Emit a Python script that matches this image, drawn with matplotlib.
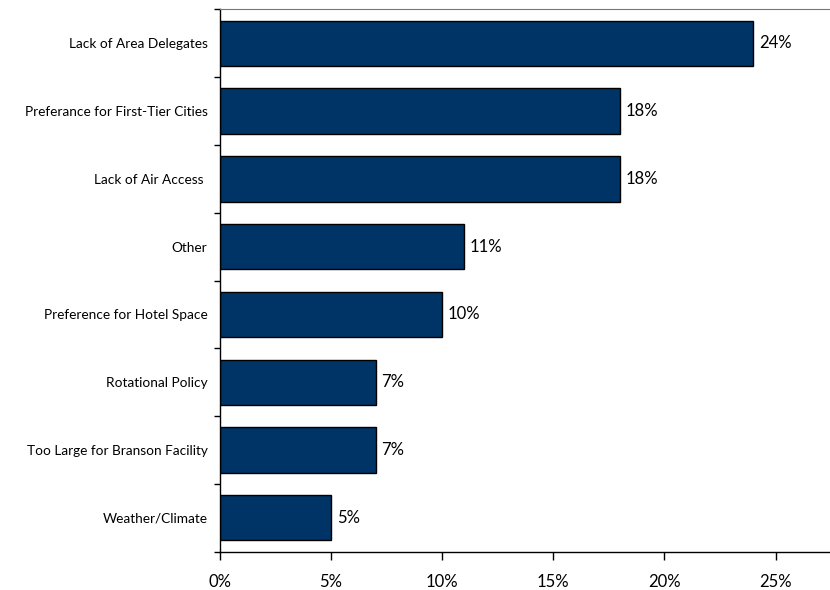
import matplotlib.pyplot as plt
import numpy as np

# Reasons for not choosing Branson, share of responses (%)
reasons = ["Lack of Area Delegates", "Preferance for First-Tier Cities",
           "Lack of Air Access ", "Other", "Preference for Hotel Space",
           "Rotational Policy", "Too Large for Branson Facility",
           "Weather/Climate"]
shares = [24, 18, 18, 11, 10, 7, 7, 5]
x_ticks = [0, 5, 10, 15, 20, 25]

plt.rcParams['font.family'] = ['Lato', 'DejaVu Sans']

fig = plt.figure(figsize=(8.3, 5.9), dpi=100)
ax = fig.add_axes([0.265, 0.065, 0.735, 0.919])

pos = np.arange(len(reasons))
ax.barh(pos, shares, height=0.67, color="#003366", edgecolor="black",
        linewidth=1.0)

for p, v in zip(pos, shares):
    ax.text(v + 0.25, p, str(v) + "%", va="center", ha="left",
            fontsize=12, color="black")

ax.set_ylim(len(reasons) - 0.5, -0.5)
ax.set_xlim(0, 27.45)

ax.set_yticks(pos)
ax.set_yticklabels(reasons, fontsize=9.8)
ax.tick_params(axis="y", which="major", length=0, pad=9)
ax.set_yticks(np.arange(-0.5, len(reasons), 1), minor=True)
ax.tick_params(axis="y", which="minor", length=4, direction="out", width=1)

ax.set_xticks(x_ticks)
ax.set_xticklabels([str(t) + "%" for t in x_ticks], fontsize=12)
ax.tick_params(axis="x", length=6, direction="out", width=1, pad=10)

ax.spines["right"].set_visible(False)
ax.spines["top"].set_color("#777777")
ax.spines["left"].set_linewidth(1.0)
ax.spines["bottom"].set_linewidth(1.0)

fig.savefig("out.png", dpi=100)
